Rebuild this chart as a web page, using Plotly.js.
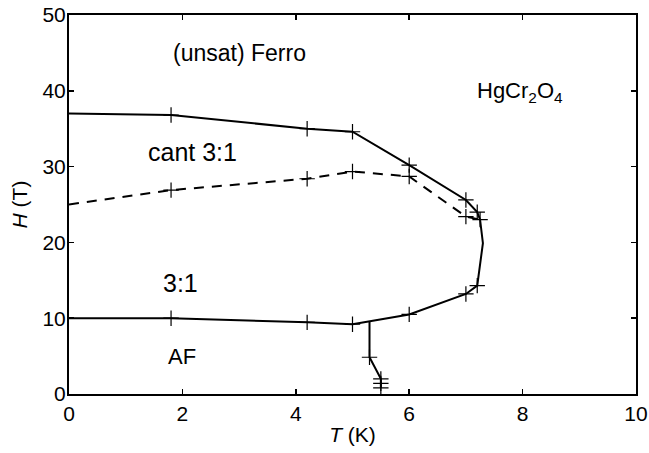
<!DOCTYPE html>
<html>
<head>
<meta charset="utf-8">
<script src="https://cdn.plot.ly/plotly-3.0.1.min.js"></script>
<style>html,body{margin:0;padding:0;background:#fff;}#chart{width:649px;height:453px;}</style>
</head>
<body>
<div id="chart"></div>
<script>
// Solid phase boundary (closed loop from upper branch around nose to lower branch)
const solidT = [0, 1.8, 4.2, 5.0, 6.0, 7.0, 7.2, 7.25, 7.3, 7.2, 7.0, 6.0, 5.0, 4.2, 1.8, 0];
const solidH = [37.0, 36.8, 35.0, 34.6, 30.2, 25.6, 24.0, 23.0, 19.9, 14.3, 13.2, 10.5, 9.2, 9.45, 10.0, 10.0];
const solidMeasured = [false, true, true, true, true, true, true, true, false, true, true, true, true, true, true, false];

// Dashed boundary (cant 3:1 / 3:1)
const dashT = [0, 1.8, 4.2, 5.0, 6.0, 7.0, 7.25];
const dashH = [25.0, 26.9, 28.4, 29.35, 28.7, 23.4, 23.0];
const dashMeasured = [false, true, true, true, true, true, false];

// AF boundary branch
const afT = [5.3, 5.3, 5.5, 5.5, 5.5];
const afH = [9.6, 4.85, 2.0, 1.4, 0.8];
const afMeasured = [false, true, true, true, true];

// Phase labels
const labelText = ["(unsat) Ferro", "HgCr<sub>2</sub>O<sub>4</sub>", "cant 3:1", "3:1", "AF"];
const labelT = [3.0, 7.95, 2.17, 1.96, 2.0];
const labelH = [45.0, 39.8, 31.9, 14.7, 4.9];

const xTicks = [0, 2, 4, 6, 8, 10];
const yTicks = [0, 10, 20, 30, 40, 50];

function pick(arr, mask) { return arr.filter((v, i) => mask[i]); }

const lineStyle = {color: '#000', width: 2};
const markerStyle = {symbol: 'cross-thin-open', size: 11, color: '#000', line: {color: '#000', width: 1.2}};

const traces = [
  {x: solidT, y: solidH, mode: 'lines', line: lineStyle, hoverinfo: 'skip'},
  {x: dashT, y: dashH, mode: 'lines', line: {color: '#000', width: 2, dash: '10px,8px'}, hoverinfo: 'skip'},
  {x: afT, y: afH, mode: 'lines', line: lineStyle, hoverinfo: 'skip'},
  {x: pick(solidT, solidMeasured), y: pick(solidH, solidMeasured), mode: 'markers', marker: markerStyle},
  {x: pick(dashT, dashMeasured), y: pick(dashH, dashMeasured), mode: 'markers', marker: markerStyle},
  {x: pick(afT, afMeasured), y: pick(afH, afMeasured), mode: 'markers', marker: markerStyle}
];

const font = {family: '"Liberation Sans", Arial, sans-serif', size: 21, color: '#000'};
const labelSizes = [23, 22, 25, 25, 22];

const annotations = labelText.map((t, i) => ({
  x: labelT[i], y: labelH[i], xref: 'x', yref: 'y', text: t, showarrow: false,
  font: {family: font.family, size: labelSizes[i], color: '#000'},
  xanchor: 'center', yanchor: 'middle'
}));

const layout = {
  width: 649, height: 453,
  margin: {l: 69, r: 13, t: 14.5, b: 58.5, pad: 0},
  paper_bgcolor: '#fff', plot_bgcolor: '#fff',
  showlegend: false,
  font: font,
  xaxis: {
    range: [0, 10], tickvals: xTicks, ticktext: xTicks.map(String),
    ticks: 'inside', ticklen: 5, tickwidth: 1.5, tickcolor: '#000',
    showline: true, linecolor: '#000', linewidth: 2, mirror: 'ticks',
    showgrid: false, zeroline: false,
    tickfont: {family: font.family, size: 21, color: '#000'},
    ticklabelstandoff: 0,
    title: {text: '<i>T</i> (K)', font: {family: font.family, size: 21, color: '#000'}, standoff: 3}
  },
  yaxis: {
    range: [0, 50], tickvals: yTicks, ticktext: yTicks.map(String),
    ticks: 'inside', ticklen: 5, tickwidth: 1.5, tickcolor: '#000',
    showline: true, linecolor: '#000', linewidth: 2, mirror: 'ticks',
    showgrid: false, zeroline: false,
    tickfont: {family: font.family, size: 21, color: '#000'},
    ticklabelstandoff: -3,
    title: {text: '<i>H</i> (T)', font: {family: font.family, size: 21, color: '#000'}, standoff: 9}
  },
  annotations: annotations
};

Plotly.newPlot('chart', traces, layout, {staticPlot: true, displayModeBar: false});
</script>
</body>
</html>
